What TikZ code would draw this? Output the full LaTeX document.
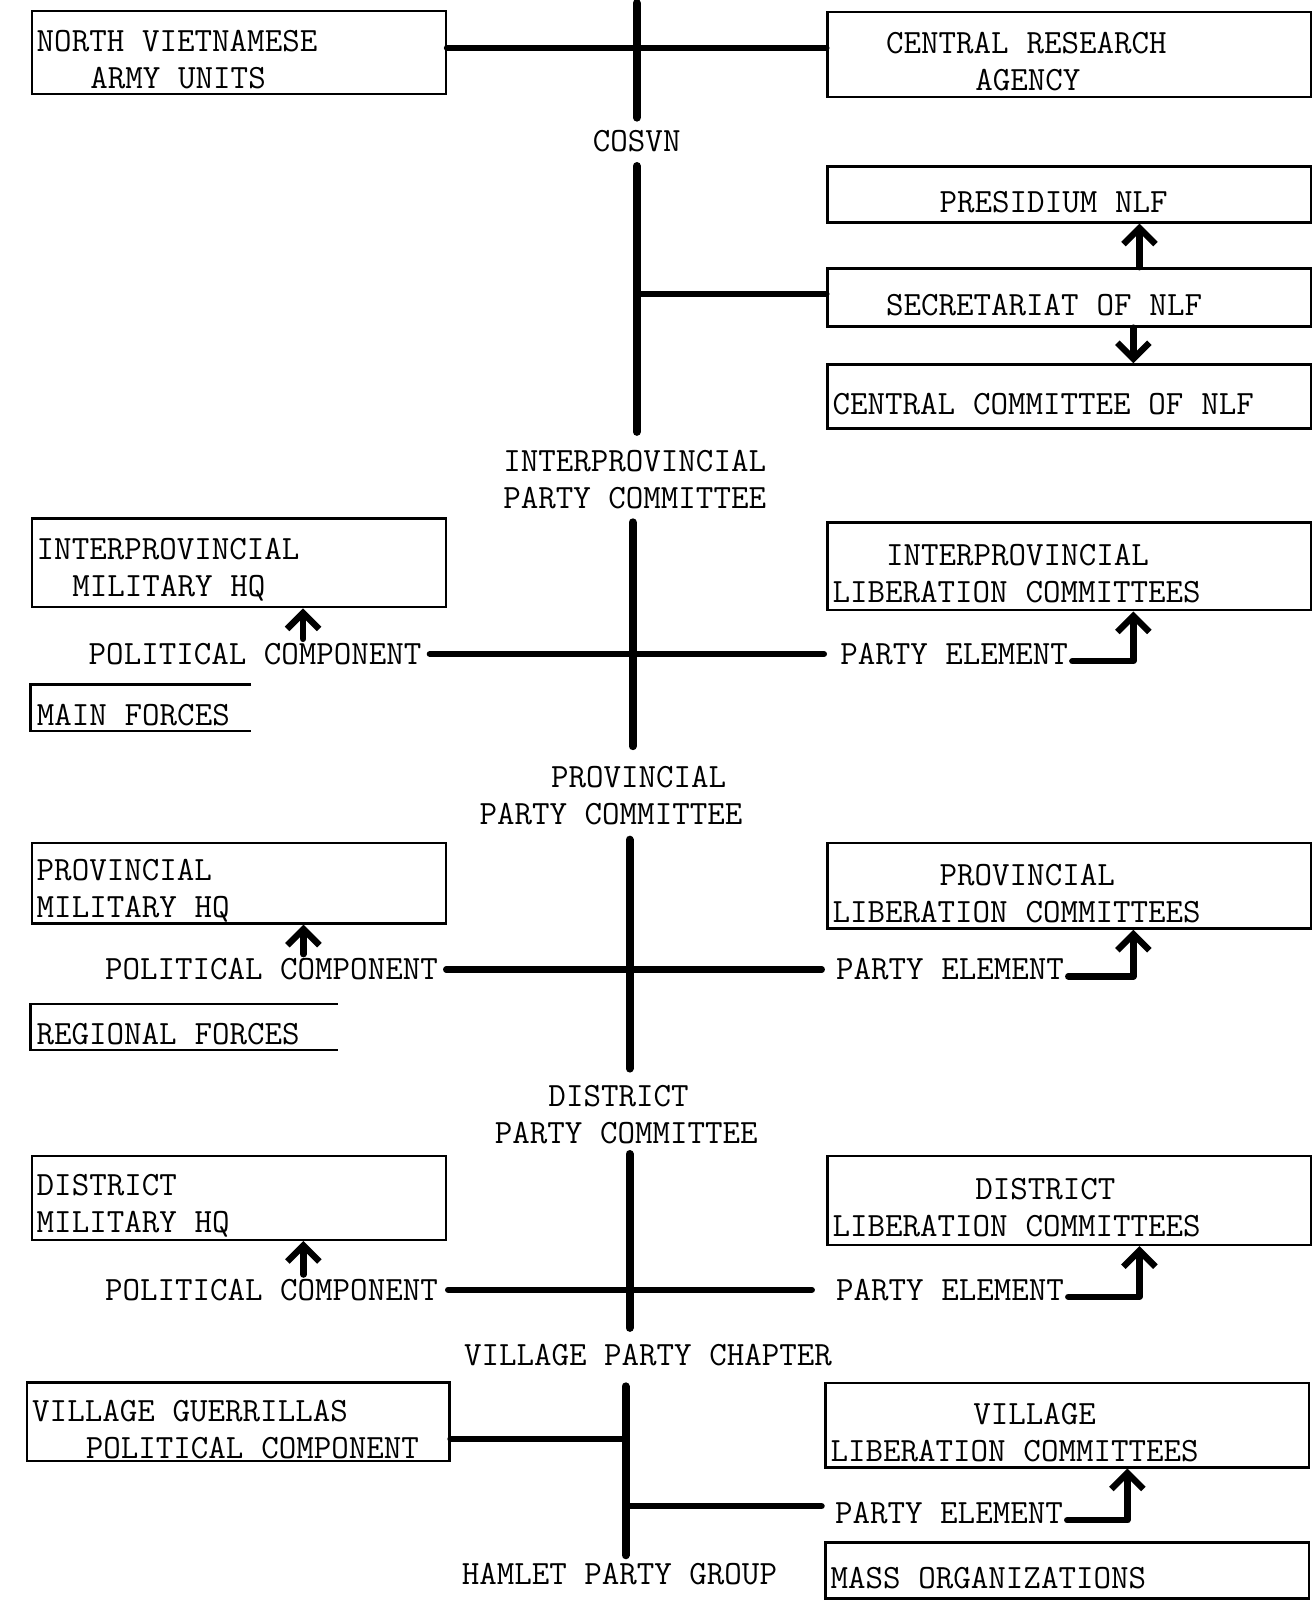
\documentclass[tikz,border=0pt]{standalone}
\usepackage{tikz}
\usetikzlibrary{arrows.meta}

\newlength{\chw}
\setlength{\chw}{8.925pt}
\newcommand{\indch}[1]{\hspace*{#1\chw}}

\begin{document}
\begin{tikzpicture}[x=0.5101pt, y=-0.5101pt,
        font = \ttfamily\fontsize{17}{18.5}\selectfont,
        box/.style = {draw, line width=1.2pt, inner xsep=2.5pt, inner ysep=0pt,
            align=left, execute at begin node={\spaceskip=\chw\relax\rule{0pt}{18pt}}},
        mil/.style = {box, text width=202pt},
        civ/.style = {box, text width=236.8pt},
        lbl/.style = {inner sep=2pt, align=left},
        spine/.style = {line width=4pt, line cap=round},
        link/.style = {line width=3.2pt, line cap=round},
        up/.style = {-{Straight Barb[length=8pt,width=16pt]}, line width=3.2pt,
            line cap=round, line join=round}]
    \useasboundingbox (0,0) rectangle (1286,1568);

    % COSVN
    \node[mil, minimum height=41.3pt] (nva) at (234,51.5) {NORTH VIETNAMESE\\\indch{3}ARMY UNITS};
    \node[civ, minimum height=42.3pt] (cra) at (1048,53.5) {\indch{3}CENTRAL RESEARCH\\\indch{8}AGENCY};
    \node[lbl] (cosvn) at (624,138) {COSVN};
    \node[civ, minimum height=28pt] (pres) at (1048,190.5) {\indch{6}PRESIDIUM NLF};
    \node[civ, minimum height=29pt] (secr) at (1048,291.5) {\indch{3}SECRETARIAT OF NLF};
    \node[civ, minimum height=32pt] (cc) at (1048,388.5) {CENTRAL COMMITTEE OF NLF};

    % interprovincial
    \node[lbl] (ippc) at (622,470) {INTERPROVINCIAL\\PARTY COMMITTEE};
    \node[mil, minimum height=44.4pt] (iphq) at (234,551.5) {INTERPROVINCIAL\\\indch{2}MILITARY HQ};
    \node[civ, minimum height=43.9pt] (iplib) at (1048,555) {\indch{3}INTERPROVINCIAL\\LIBERATION COMMITTEES};
    \node[lbl] (polc1) at (250,641) {POLITICAL COMPONENT};
    \node[lbl] (pe1) at (935,641) {PARTY ELEMENT};
    \node[box, draw=none, text width=104pt, minimum height=22pt] (mainf) at (138,693.5) {MAIN FORCES};

    % provincial
    \node[lbl] (ppc) at (598.75,780) {\indch{4}PROVINCIAL\\PARTY COMMITTEE};
    \node[mil, minimum height=40.3pt] (prvhq) at (234,865.5) {PROVINCIAL\\MILITARY HQ};
    \node[civ, minimum height=42.8pt] (prvlib) at (1048,868) {\indch{6}PROVINCIAL\\LIBERATION COMMITTEES};
    \node[lbl] (polc2) at (266,950) {POLITICAL COMPONENT};
    \node[lbl] (pe2) at (931,950) {PARTY ELEMENT};
    \node[box, draw=none, text width=147.5pt, minimum height=22pt] (regf) at (180.5,1006.5) {REGIONAL FORCES};

    % district
    \node[lbl] (dpc) at (613.75,1092) {\indch{3}DISTRICT\\PARTY COMMITTEE};
    \node[mil, minimum height=41.8pt] (dsthq) at (234,1174) {DISTRICT\\MILITARY HQ};
    \node[civ, minimum height=44.4pt] (dstlib) at (1048,1176.5) {\indch{8}DISTRICT\\LIBERATION COMMITTEES};
    \node[lbl] (polc3) at (266,1264) {POLITICAL COMPONENT};
    \node[lbl] (pe3) at (931,1264) {PARTY ELEMENT};

    % village and hamlet
    \node[lbl] (vpc) at (635,1328) {VILLAGE PARTY CHAPTER};
    \node[mil, text width=206pt, minimum height=39.3pt] (vgue) at (233.5,1393.5) {VILLAGE GUERRILLAS\\\indch{3}POLITICAL COMPONENT};
    \node[civ, minimum height=42.3pt] (vlib) at (1046,1396.5) {\indch{8}VILLAGE\\LIBERATION COMMITTEES};
    \node[lbl] (pe4) at (930,1483) {PARTY ELEMENT};
    \node[civ, minimum height=28pt] (mass) at (1046,1539) {MASS ORGANIZATIONS};
    \node[lbl] (hpg) at (607,1543) {HAMLET PARTY GROUP};

    \coordinate (top) at (624,3);
    \coordinate (j0) at (624,47);
    \coordinate (j1) at (624,288);
    \coordinate (j2) at (620,641);
    \coordinate (j3) at (617,950);
    \coordinate (j4) at (617,1261);
    \coordinate (j5) at (613,1410);
    \coordinate (j6) at (613,1476);

    % main line
    \draw[spine, shorten >=4pt] (top) -- (top |- cosvn.north);
    \draw[spine, shorten <=5pt, shorten >=7pt] (j1 |- cosvn.south) -- (j1 |- ippc.north);
    \draw[spine, shorten <=4.5pt, shorten >=8pt] (j2 |- ippc.south) -- (j2 |- ppc.north);
    \draw[spine, shorten <=5pt, shorten >=6pt] (j3 |- ppc.south) -- (j3 |- dpc.north);
    \draw[spine, shorten <=3pt, shorten >=6pt] (j4 |- dpc.south) -- (j4 |- vpc.north);
    \draw[spine, shorten <=8pt, shorten >=2pt] (j5 |- vpc.south) -- (j5 |- hpg.north);

    % side links
    \draw[link] (nva.east |- j0) -- (cra.west |- j0);
    \draw[link] (j1) -- (secr.west |- j1);
    \draw[up] ([xshift=35pt]secr.north) -- ([xshift=35pt]pres.south);
    \draw[up] ([xshift=32pt]secr.south) -- ([xshift=32pt]cc.north);

    \draw[link, shorten <=2pt, shorten >=6pt] (polc1.east) -- (pe1.west);
    \draw[up] ([xshift=24pt]polc1.north) -- ([xshift=24pt]polc1.north |- iphq.south);
    \draw[up] ([yshift=-3.5pt]pe1.east) -| ([xshift=32pt]iplib.south);
    \draw[line width=1.2pt] (mainf.north east) -- (mainf.north west) -- (mainf.south west) -- (mainf.south east);

    \draw[link, shorten <=2pt, shorten >=5pt] (polc2.east) -- (pe2.west);
    \draw[up] ([xshift=16pt]polc2.north) -- ([xshift=16pt]polc2.north |- prvhq.south);
    \draw[up] ([yshift=-3.5pt]pe2.east) -| ([xshift=32pt]prvlib.south);
    \draw[line width=1.2pt] (regf.north east) -- (regf.north west) -- (regf.south west) -- (regf.south east);

    \draw[link, shorten <=3pt, shorten >=10pt] (polc3.east) -- (pe3.west);
    \draw[up] ([xshift=16pt]polc3.north) -- ([xshift=16pt]polc3.north |- dsthq.south);
    \draw[up] ([yshift=-3.5pt]pe3.east) -| ([xshift=35pt]dstlib.south);

    \draw[link] (vgue.east |- j5) -- (j5);
    \draw[link, shorten >=4.6pt] (j6) -- (pe4.west |- j6);
    \draw[up] ([yshift=-3.5pt]pe4.east) -| ([xshift=30pt]vlib.south);
\end{tikzpicture}
\end{document}
